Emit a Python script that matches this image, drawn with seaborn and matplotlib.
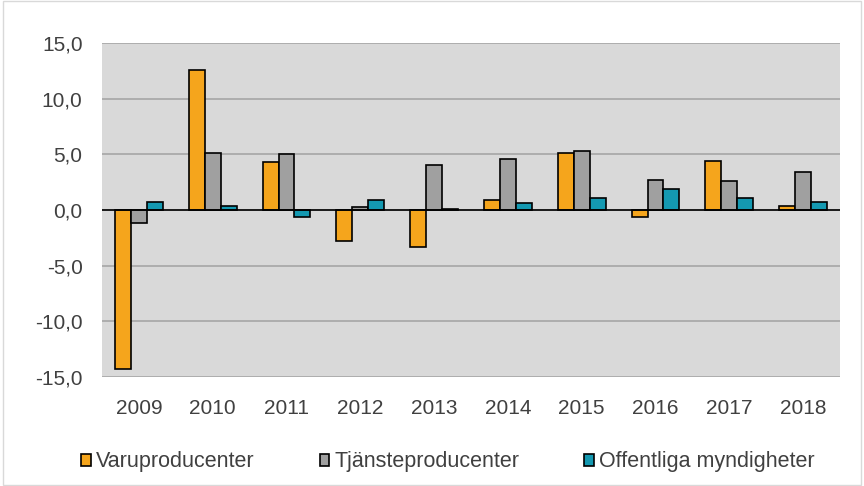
import pandas as pd
import matplotlib
matplotlib.use("Agg")
import matplotlib.pyplot as plt
import seaborn as sns
from matplotlib.ticker import FuncFormatter

years = ["2009", "2010", "2011", "2012", "2013", "2014", "2015", "2016", "2017", "2018"]
varu = [-14.3, 12.6, 4.3, -2.8, -3.3, 0.9, 5.1, -0.6, 4.4, 0.4]
tjanst = [-1.2, 5.1, 5.0, 0.3, 4.0, 4.6, 5.3, 2.7, 2.6, 3.4]
offentliga = [0.7, 0.4, -0.6, 0.9, 0.1, 0.6, 1.1, 1.9, 1.1, 0.7]
serier = ["Varuproducenter", "Tjänsteproducenter", "Offentliga myndigheter"]
farger = ["#F5A51C", "#A0A0A0", "#1499B1"]

df = pd.DataFrame({"år": years, serier[0]: varu, serier[1]: tjanst, serier[2]: offentliga})
df = df.melt(id_vars="år", var_name="serie", value_name="värde")

sns.set_theme(style="white")
plt.rcParams["font.family"] = ["Liberation Sans", "DejaVu Sans"]

fig = plt.figure(figsize=(8.64, 4.86), dpi=100)
ax = fig.add_axes([102 / 864, 1 - 377 / 486, 738 / 864, 334 / 486])
ax.set_facecolor("#D9D9D9")

sns.barplot(data=df, x="år", y="värde", hue="serie", hue_order=serier,
            palette=farger, saturation=1, width=0.65, edgecolor="black", linewidth=1.2,
            ax=ax, zorder=3)

ax.set_ylim(-15, 15)
ax.set_yticks(range(-15, 16, 5))
ax.yaxis.set_major_formatter(FuncFormatter(lambda v, p: f"{v:.1f}".replace(".", ",")))
ax.grid(axis="y", color="#A6A6A6", linewidth=1.2, zorder=0)
ax.axhline(0, color="black", linewidth=1.2, zorder=4)
for s in ax.spines.values():
    s.set_visible(False)
ax.tick_params(axis="both", length=0, labelsize=15, colors="#404040")
ax.tick_params(axis="y", pad=14)
ax.tick_params(axis="x", pad=16)
ax.set_xlabel("")
ax.set_ylabel("")

leg = ax.legend(loc="upper center", bbox_to_anchor=(0.469, -0.165), ncol=3, frameon=False,
                fontsize=15.5, handlelength=0.45, handleheight=0.45, handletextpad=0.25,
                columnspacing=3.0, labelcolor="#404040")

fig.patches.append(plt.Rectangle((0.003, 0.003), 0.994, 0.994, transform=fig.transFigure,
                                 fill=False, edgecolor="#D9D9D9", linewidth=1))
fig.savefig("out.png", dpi=100, facecolor="white")
